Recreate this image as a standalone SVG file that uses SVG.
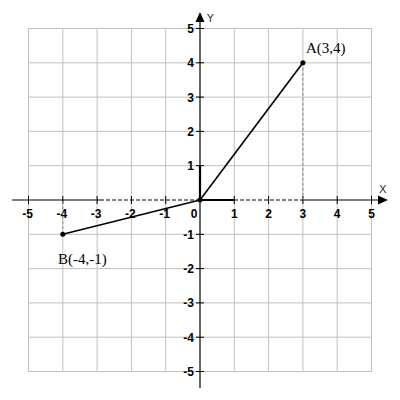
<svg xmlns="http://www.w3.org/2000/svg" width="400" height="400" viewBox="0 0 400 400">
<style>
.grid line{stroke:#c0c0c0;stroke-width:1}
.ax{stroke:#000;stroke-width:1.2;fill:none}
.tick{stroke:#000;stroke-width:1}
.dash{stroke:#888;stroke-width:1;stroke-dasharray:3,2}
.num{font-family:"Liberation Sans",Arial,sans-serif;font-size:12px;font-weight:bold;fill:#000}
.lbl{font-family:"Liberation Serif","Times New Roman",serif;font-size:15px;fill:#000}
.axl{font-family:"DejaVu Sans",sans-serif;font-size:11px;fill:#333}
</style>
<rect width="400" height="400" fill="#fff"/>
<g class="grid">
<line x1="28.5" y1="28.5" x2="28.5" y2="371.5"/><line x1="62.8" y1="28.5" x2="62.8" y2="371.5"/><line x1="97.1" y1="28.5" x2="97.1" y2="371.5"/><line x1="131.4" y1="28.5" x2="131.4" y2="371.5"/><line x1="165.7" y1="28.5" x2="165.7" y2="371.5"/><line x1="234.3" y1="28.5" x2="234.3" y2="371.5"/><line x1="268.6" y1="28.5" x2="268.6" y2="371.5"/><line x1="302.9" y1="28.5" x2="302.9" y2="371.5"/><line x1="337.2" y1="28.5" x2="337.2" y2="371.5"/><line x1="371.5" y1="28.5" x2="371.5" y2="371.5"/>
<line x1="28.5" y1="28.5" x2="371.5" y2="28.5"/><line x1="28.5" y1="62.8" x2="371.5" y2="62.8"/><line x1="28.5" y1="97.1" x2="371.5" y2="97.1"/><line x1="28.5" y1="131.4" x2="371.5" y2="131.4"/><line x1="28.5" y1="165.7" x2="371.5" y2="165.7"/><line x1="28.5" y1="234.3" x2="371.5" y2="234.3"/><line x1="28.5" y1="268.6" x2="371.5" y2="268.6"/><line x1="28.5" y1="302.9" x2="371.5" y2="302.9"/><line x1="28.5" y1="337.2" x2="371.5" y2="337.2"/><line x1="28.5" y1="371.5" x2="371.5" y2="371.5"/>
</g>
<g id="axes">
<line class="ax" x1="12" y1="200" x2="100" y2="200"/>
<line class="ax" x1="303" y1="200" x2="380" y2="200"/>
<line class="ax" x1="100" y1="200" x2="200" y2="200" stroke-dasharray="4,2"/>
<line class="ax" x1="234" y1="200" x2="303" y2="200" stroke-dasharray="4,2"/>
<polygon points="388,200 378,195.5 378,204.5" fill="#000"/>
<line class="ax" x1="200" y1="388" x2="200" y2="20"/>
<polygon points="200,12 195.5,22 204.5,22" fill="#000"/>
<g class="tick">
<line x1="28.5" y1="196" x2="28.5" y2="204"/><line x1="62.8" y1="196" x2="62.8" y2="204"/><line x1="97.1" y1="196" x2="97.1" y2="204"/><line x1="131.4" y1="196" x2="131.4" y2="204"/><line x1="165.7" y1="196" x2="165.7" y2="204"/><line x1="234.3" y1="196" x2="234.3" y2="204"/><line x1="268.6" y1="196" x2="268.6" y2="204"/><line x1="302.9" y1="196" x2="302.9" y2="204"/><line x1="337.2" y1="196" x2="337.2" y2="204"/><line x1="371.5" y1="196" x2="371.5" y2="204"/>
<line x1="196" y1="28.5" x2="204" y2="28.5"/><line x1="196" y1="62.8" x2="204" y2="62.8"/><line x1="196" y1="97.1" x2="204" y2="97.1"/><line x1="196" y1="131.4" x2="204" y2="131.4"/><line x1="196" y1="165.7" x2="204" y2="165.7"/><line x1="196" y1="234.3" x2="204" y2="234.3"/><line x1="196" y1="268.6" x2="204" y2="268.6"/><line x1="196" y1="302.9" x2="204" y2="302.9"/><line x1="196" y1="337.2" x2="204" y2="337.2"/><line x1="196" y1="371.5" x2="204" y2="371.5"/>
</g>
<text class="axl" x="379" y="193">X</text>
<text class="axl" x="207" y="22">Y</text>
</g>
<g id="xlabels" class="num" text-anchor="middle">
<text x="27.5" y="218">-5</text><text x="61.8" y="218">-4</text><text x="96.1" y="218">-3</text><text x="130.4" y="218">-2</text><text x="164.7" y="218">-1</text><text x="194" y="218">0</text><text x="234.3" y="218">1</text><text x="268.6" y="218">2</text><text x="302.9" y="218">3</text><text x="337.2" y="218">4</text><text x="371.5" y="218">5</text>
</g>
<g id="ylabels" class="num" text-anchor="end">
<text x="194" y="33">5</text><text x="194" y="67">4</text><text x="194" y="101.5">3</text><text x="194" y="136">2</text><text x="194" y="170">1</text><text x="194" y="238.5">-1</text><text x="194" y="273">-2</text><text x="194" y="307">-3</text><text x="194" y="341.5">-4</text><text x="194" y="376">-5</text>
</g>
<g id="connectors">
<line class="dash" x1="302.9" y1="62.8" x2="302.9" y2="200"/>
<line class="dash" x1="62.8" y1="234.3" x2="62.8" y2="200"/>
<line x1="200" y1="200" x2="302.9" y2="62.8" stroke="#000" stroke-width="1.6"/>
<line x1="200" y1="200" x2="62.8" y2="234.3" stroke="#000" stroke-width="1.6"/>
<line x1="200" y1="200" x2="234.3" y2="200" stroke="#000" stroke-width="2.2"/>
<line x1="200" y1="200" x2="200" y2="165.7" stroke="#000" stroke-width="2.2"/>
</g>
<g id="O"><circle cx="200" cy="200" r="2.5" fill="#000"/></g>
<g id="A"><circle cx="302.9" cy="62.8" r="2.5" fill="#000"/><text class="lbl" x="306" y="53">A(3,4)</text></g>
<g id="B"><circle cx="62.8" cy="234.3" r="2.5" fill="#000"/><text class="lbl" x="58" y="264">B(-4,-1)</text></g>
</svg>
